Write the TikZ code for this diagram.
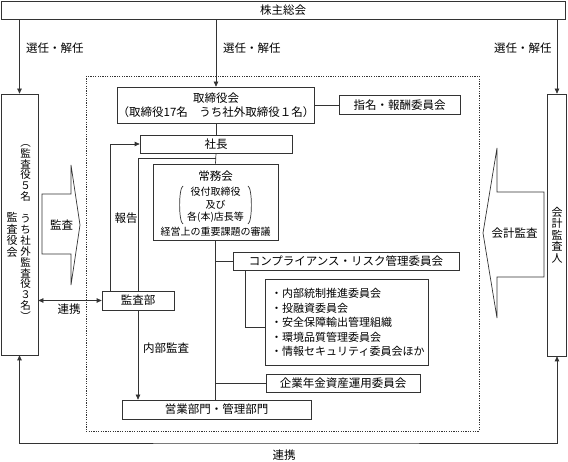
\documentclass[tikz,border=0pt]{standalone}
\usepackage{fontspec}
\setmainfont{Noto Sans CJK JP}
\usetikzlibrary{arrows.meta,calc}
\begin{document}
\begin{tikzpicture}[x=1pt,y=-1pt,
  every node/.style={font=\fontsize{11.5}{14}\selectfont, inner sep=0pt},
  bx/.style={draw=black!80, line width=0.7pt},
  ln/.style={draw=black!80, line width=0.7pt},
  arr/.style={ln, -{Triangle[length=5pt,width=4.5pt]}},
  arrb/.style={ln, {Triangle[length=5pt,width=4.5pt]}-{Triangle[length=5pt,width=4.5pt]}},
  vtxt/.style={align=center, font=\fontsize{11}{11.5}\selectfont},
  vtxtb/.style={align=center, font=\fontsize{10.5}{10.9}\selectfont},
  dots/.style={draw=black!80, line width=0.7pt, dash pattern=on 1.2pt off 1.2pt},
  blk/.style={draw=black!80, line width=0.7pt, line join=miter}
]
\useasboundingbox (0,0) rectangle (568,462);

% boxes
\node[bx, minimum width=564pt, minimum height=18pt] (kabu) at (283,10) {株主総会};
\node[bx, minimum width=37pt, minimum height=261pt] (kansayaku) at (19.5,224.5) {};
\node[vtxt] (kA) at (12,235) {監\\査\\役\\会};
\node[vtxtb] (kB) at (25.5,232.5) {︵\\監\\査\\役\\５\\名\\\mbox{}\\う\\ち\\社\\外\\監\\査\\役\\３\\名\\︶};
\node[bx, minimum width=19pt, minimum height=262pt] (kaikei) at (557,225) {};
\node[vtxt] (kaikeiT) at (557,235) {会\\計\\監\\査\\人};

\draw[dots] (86,76) rectangle (479,431);

\node[bx, minimum width=196pt, minimum height=36pt, align=center] (tori) at (216,105) {取締役会\\（取締役17名　うち社外取締役１名）};
\node[bx, minimum width=121pt, minimum height=19pt] (shimei) at (399.5,105) {指名・報酬委員会};
\node[bx, minimum width=152pt, minimum height=18pt] (shacho) at (216,144) {社長};
\node[bx, minimum width=125pt, minimum height=76pt] (jomu) at (215.5,202) {};
\node (jomuT) at (215.5,176) {常務会};
\node[font=\fontsize{10}{12.5}\selectfont, align=center] (jomuM) at (215.5,205) {役付取締役\\及び\\各(本)店長等};
\node[font=\fontsize{10}{12}\selectfont] (jomuB) at (215.5,232) {経営上の重要課題の審議};
\draw[ln] (183,186) .. controls (178.5,188) and (178.5,222) .. (183,224);
\draw[ln] (248,186) .. controls (252.5,188) and (252.5,222) .. (248,224);

\node[bx, minimum width=226pt, minimum height=18pt] (comp) at (346,261) {コンプライアンス・リスク管理委員会};
\node[bx, minimum width=163pt, minimum height=86pt] (list) at (346.5,322) {};
\node[anchor=west, align=left, font=\fontsize{11}{14.6}\selectfont] (listT) at (271,322.5) {・内部統制推進委員会\\・投融資委員会\\・安全保障輸出管理組織\\・環境品質管理委員会\\・情報セキュリティ委員会ほか};
\node[bx, minimum width=154pt, minimum height=18pt] (kigyo) at (343,383) {企業年金資産運用委員会};
\node[bx, minimum width=189pt, minimum height=19pt] (eigyo) at (216.5,409.5) {営業部門・管理部門};
\node[bx, minimum width=72pt, minimum height=19pt] (kansabu) at (138,300.5) {監査部};

% labels
\node[anchor=west] (l1) at (26,48) {選任・解任};
\node[anchor=west] (l2) at (223,48) {選任・解任};
\node[anchor=west] (l3) at (494,48) {選任・解任};
\node (hokoku) at (126,218) {報告};
\node (naibu) at (166,348) {内部監査};
\node (renkei1) at (69,309) {連携};
\node (renkei2) at (284,455) {連携};

% block arrows
\draw[blk] (42,194) -- (71,194) -- (71,165) -- (80,225) -- (71,285) -- (71,254) -- (42,254) -- cycle;
\node (kansaL) at (61.5,225) {監査};
\draw[blk] (544,192) -- (497,192) -- (497,148) -- (483,233) -- (497,318) -- (497,277) -- (544,277) -- cycle;
\node (kaikeiL) at (514.5,233) {会計監査};

% connectors
\draw[arr] (kansayaku.north |- kabu.south) -- (kansayaku.north);
\draw[arr] (tori.north |- kabu.south) -- (tori.north);
\draw[arr] (kaikei.north |- kabu.south) -- (kaikei.north);
\draw[ln] (tori.east) -- (shimei.west);
\draw[ln] (tori.south) -- (shacho.north);
\draw[ln] (shacho.south) -- (jomu.north);
\draw[ln] ($(shacho.south)!0.5!(jomu.north)$) -| (kansabu.north);
\draw[arr] (kansabu.north west) ++(9,0) |- (shacho.west);
\draw[ln] (jomu.south) -- (jomu.south |- eigyo.north);
\draw[ln] (jomu.south |- comp.west) -- (comp.west);
\draw[ln] (jomu.south |- kigyo.west) -- (kigyo.west);
\draw[ln] (comp.south west) ++(12.7,0) |- ($(list.west)+(0,5)$);
\draw[arr] (kansabu.south) -- (kansabu.south |- eigyo.north);
\draw[arrb] (kansayaku.east |- kansabu.west) -- (kansabu.west);
\coordinate (bot) at (284,443);
\draw[arrb] (kansayaku.south) |- (bot) -| (kaikei.south);
\end{tikzpicture}
\end{document}
